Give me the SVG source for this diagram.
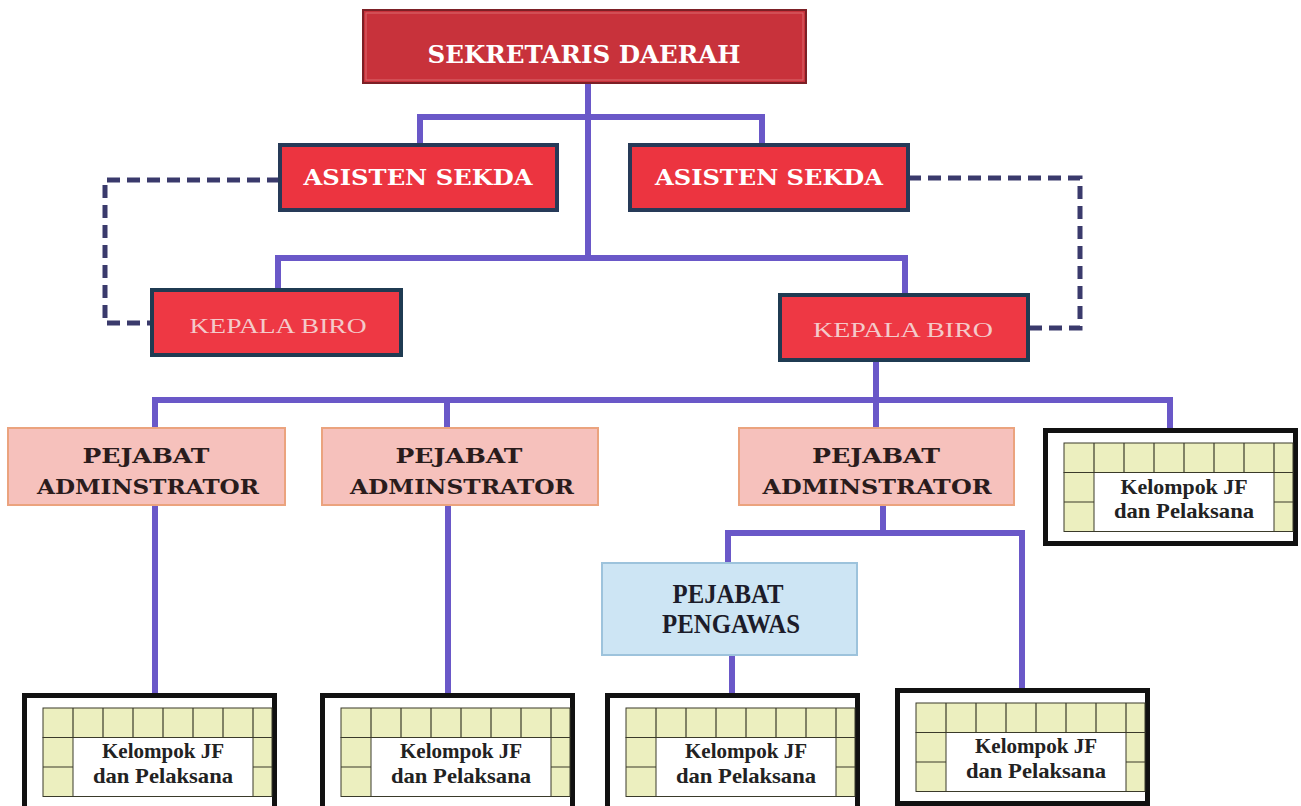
<svg xmlns="http://www.w3.org/2000/svg" xmlns:xlink="http://www.w3.org/1999/xlink" width="1301" height="806" viewBox="0 0 1301 806">
<style>
.conn{fill:none;stroke:#6a58c8;stroke-width:6;stroke-linecap:square;stroke-linejoin:miter}
.dash{fill:none;stroke:#3a3a6c;stroke-width:5;stroke-dasharray:13 7}
.sekda{fill:#c8323b;stroke:#7c2026;stroke-width:2}
.sekda-in{fill:none;stroke:#dc6a70;stroke-width:1}
.asisten{fill:#ec3440;stroke:#263a58;stroke-width:4}
.biro{fill:#ee3844;stroke:#1f3b52;stroke-width:4}
.admin{fill:#f6c1bc;stroke:#eba37e;stroke-width:2}
.pengawas{fill:#cde5f4;stroke:#9dc3dc;stroke-width:2}
.hw{font-family:"DejaVu Serif","Liberation Serif",serif;font-weight:bold;fill:#ffffff;text-anchor:middle}
.kb{font-family:"Liberation Serif",serif;fill:#f4caca;text-anchor:middle;font-size:22px}
.ha{font-family:"DejaVu Serif","Liberation Serif",serif;font-weight:bold;fill:#2a1c1c;text-anchor:middle;font-size:21px}
.hp{font-family:"Liberation Serif",serif;font-weight:bold;fill:#1c1c2a;text-anchor:middle;font-size:27px}
.jf{font-family:"Liberation Serif",serif;font-weight:bold;fill:#222222;text-anchor:middle;font-size:21px}
.frame{fill:#ffffff;stroke:#111111;stroke-width:5}
.cell{fill:#ecefbf;stroke:#3a3a2a;stroke-width:1}
.gl{stroke:#3a3a2a;stroke-width:1.2;fill:none}
</style>
<defs>
<g id="jfbox">
<rect class="frame" x="2.5" y="2.5" width="250" height="113"/>
<rect class="cell" x="21" y="15" width="229" height="29.5"/>
<rect class="cell" x="21" y="44.5" width="30" height="59"/>
<rect class="cell" x="231" y="44.5" width="19" height="59"/>
<path class="gl" d="M51 15V44.5M81 15V44.5M111 15V44.5M141 15V44.5M171 15V44.5M201 15V44.5M231 15V44.5M21 74H51M231 74H250M21 103.5H250"/>
</g>
</defs>
<rect width="1301" height="806" fill="#ffffff"/>
<g id="connectors">
<path class="conn" d="M588 83V258M420 145V117H762V145M278 290V258H905V295"/>
<path class="conn" d="M876 360V400M155 428V400H1170V428M447 428V400M876 400V428"/>
<path class="conn" d="M155 505V693M448 505V693"/>
<path class="conn" d="M883 505V533M728 563V533H1022V688M732 655V693"/>
<path class="dash" d="M280 180H105V323H152"/>
<path class="dash" d="M908 178H1080V328H1028"/>
</g>
<g id="sekretaris-daerah">
<rect class="sekda" x="363" y="10" width="443" height="73"/>
<rect class="sekda-in" x="366" y="13" width="437" height="67"/>
<text class="hw" x="584" y="63" font-size="25" textLength="313" lengthAdjust="spacingAndGlyphs">SEKRETARIS DAERAH</text>
</g>
<g id="asisten-sekda-1">
<rect class="asisten" x="280" y="145" width="277" height="65"/>
<text class="hw" x="418" y="185" font-size="23" textLength="229" lengthAdjust="spacingAndGlyphs">ASISTEN SEKDA</text>
</g>
<g id="asisten-sekda-2">
<rect class="asisten" x="630" y="145" width="278" height="65"/>
<text class="hw" x="769" y="185" font-size="23" textLength="228" lengthAdjust="spacingAndGlyphs">ASISTEN SEKDA</text>
</g>
<g id="kepala-biro-1">
<rect class="biro" x="152" y="290" width="249" height="65"/>
<text class="kb" x="278" y="333" textLength="177" lengthAdjust="spacingAndGlyphs">KEPALA BIRO</text>
</g>
<g id="kepala-biro-2">
<rect class="biro" x="780" y="295" width="248" height="65"/>
<text class="kb" x="903" y="337" textLength="180" lengthAdjust="spacingAndGlyphs">KEPALA BIRO</text>
</g>
<g id="pejabat-administrator-1">
<rect class="admin" x="8" y="428" width="277" height="77"/>
<text class="ha" x="146" y="463" textLength="127" lengthAdjust="spacingAndGlyphs">PEJABAT</text>
<text class="ha" x="148" y="494" textLength="222" lengthAdjust="spacingAndGlyphs">ADMINSTRATOR</text>
</g>
<g id="pejabat-administrator-2">
<rect class="admin" x="322" y="428" width="276" height="77"/>
<text class="ha" x="459" y="463" textLength="127" lengthAdjust="spacingAndGlyphs">PEJABAT</text>
<text class="ha" x="462" y="494" textLength="224" lengthAdjust="spacingAndGlyphs">ADMINSTRATOR</text>
</g>
<g id="pejabat-administrator-3">
<rect class="admin" x="739" y="428" width="275" height="77"/>
<text class="ha" x="876" y="463" textLength="128" lengthAdjust="spacingAndGlyphs">PEJABAT</text>
<text class="ha" x="877" y="494" textLength="229" lengthAdjust="spacingAndGlyphs">ADMINSTRATOR</text>
</g>
<g id="pejabat-pengawas">
<rect class="pengawas" x="602" y="563" width="255" height="92"/>
<text class="hp" x="728" y="603" textLength="111" lengthAdjust="spacingAndGlyphs">PEJABAT</text>
<text class="hp" x="731" y="633" textLength="138" lengthAdjust="spacingAndGlyphs">PENGAWAS</text>
</g>
<g id="kelompok-jf-top">
<use xlink:href="#jfbox" transform="translate(1043,428)"/>
<text class="jf" x="1184" y="494" textLength="127" lengthAdjust="spacingAndGlyphs">Kelompok JF</text>
<text class="jf" x="1184" y="518" textLength="140" lengthAdjust="spacingAndGlyphs">dan Pelaksana</text>
</g>
<g id="kelompok-jf-1">
<use xlink:href="#jfbox" transform="translate(22,693)"/>
<text class="jf" x="163" y="758" textLength="122" lengthAdjust="spacingAndGlyphs">Kelompok JF</text>
<text class="jf" x="163" y="783" textLength="140" lengthAdjust="spacingAndGlyphs">dan Pelaksana</text>
</g>
<g id="kelompok-jf-2">
<use xlink:href="#jfbox" transform="translate(320,693)"/>
<text class="jf" x="461" y="758" textLength="122" lengthAdjust="spacingAndGlyphs">Kelompok JF</text>
<text class="jf" x="461" y="783" textLength="140" lengthAdjust="spacingAndGlyphs">dan Pelaksana</text>
</g>
<g id="kelompok-jf-3">
<use xlink:href="#jfbox" transform="translate(605,693)"/>
<text class="jf" x="746" y="758" textLength="122" lengthAdjust="spacingAndGlyphs">Kelompok JF</text>
<text class="jf" x="746" y="783" textLength="140" lengthAdjust="spacingAndGlyphs">dan Pelaksana</text>
</g>
<g id="kelompok-jf-4">
<use xlink:href="#jfbox" transform="translate(895,688)"/>
<text class="jf" x="1036" y="753" textLength="122" lengthAdjust="spacingAndGlyphs">Kelompok JF</text>
<text class="jf" x="1036" y="778" textLength="140" lengthAdjust="spacingAndGlyphs">dan Pelaksana</text>
</g>
</svg>
